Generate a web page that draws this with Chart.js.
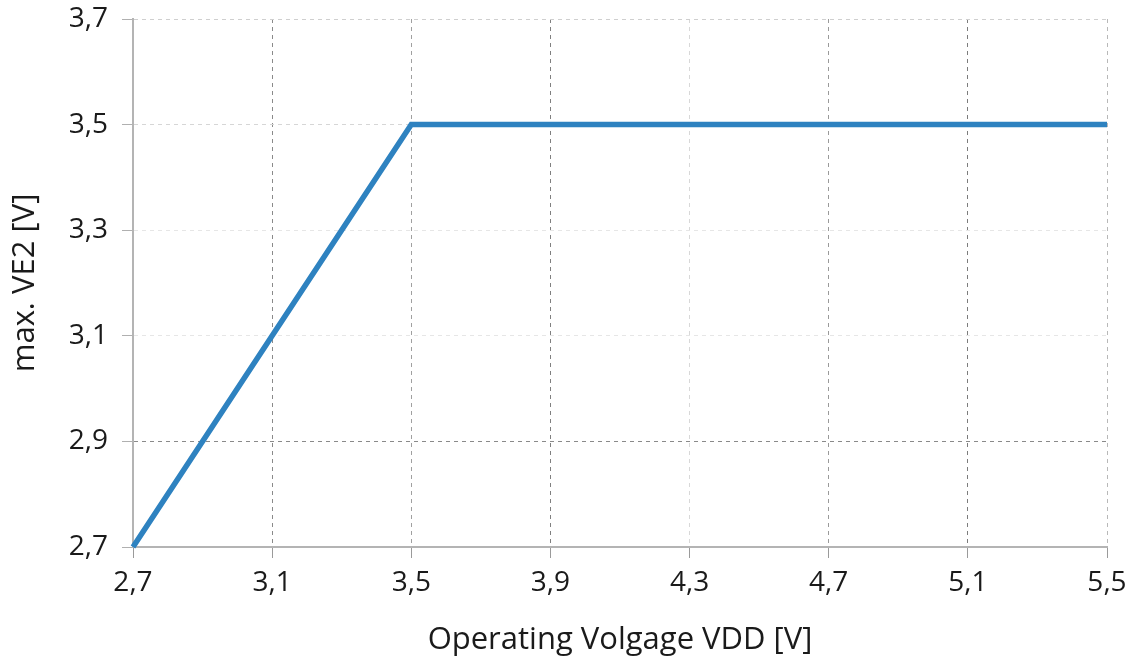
<!DOCTYPE html>
<html>
<head>
<meta charset="utf-8">
<script src="https://cdn.jsdelivr.net/npm/chart.js@4"></script>
<style>
    html, body { margin: 0; padding: 0; background: #fff; }
    #wrap { width: 1136px; height: 659px; }
</style>
</head>
<body>
<div id="wrap"><canvas id="ve2Chart"></canvas></div>
<script>
// data
let vddValues = [2.7, 3.5, 5.5]
let ve2Values = [2.7, 3.5, 3.5]
let xTicks = [2.7, 3.1, 3.5, 3.9, 4.3, 4.7, 5.1, 5.5]
let yTicks = [2.7, 2.9, 3.1, 3.3, 3.5, 3.7]

// grid shades per tick (the dashed lines are not all the same grey)
let xGridShade = ['#a8a8a8', '#8a8a8a', '#a0a0a0', '#808080', '#d8d8d8', '#9a9a9a', '#7c7c7c', '#b8b8b8']
let yGridShade = ['#a8a8a8', '#8a8a8a', '#e6e6e6', '#e6e6e6', '#d6d6d6', '#cfcfcf']

let commaFormat = v => v.toFixed(1).replace('.', ',')
let fontFamily = "'Open Sans', 'Noto Sans', sans-serif"

let points = vddValues.map((x, i) => ({ x: x, y: ve2Values[i] }))

new Chart("ve2Chart", {
    type: 'line',
    data: {
        datasets: [{
            data: points,
            borderColor: '#2e82c0',
            borderWidth: 5.5,
            pointRadius: 0,
            tension: 0,
            fill: false,
            clip: false
        }]
    },
    options: {
        responsive: true,
        maintainAspectRatio: false,
        animation: false,
        layout: { padding: { top: 19, right: 29, left: 0, bottom: 0 } },
        plugins: {
            legend: { display: false },
            tooltip: { enabled: false }
        },
        scales: {
            x: {
                type: 'linear',
                min: 2.7,
                max: 5.5,
                afterBuildTicks: axis => { axis.ticks = xTicks.map(v => ({ value: v })) },
                afterFit: axis => { axis.height = 112; axis.paddingLeft = 0; axis.paddingRight = 0 },
                ticks: {
                    color: '#1a1a1a',
                    font: { family: fontFamily, size: 28 },
                    padding: 8,
                    maxRotation: 0,
                    callback: v => commaFormat(v)
                },
                grid: {
                    color: ctx => xGridShade[ctx.index] || '#ccc',
                    lineWidth: 1,
                    tickLength: 11,
                    tickColor: '#9a9a9a',
                    drawTicks: true
                },
                border: { display: true, color: '#b4b4b4', width: 2, dash: [4, 4] },
                title: {
                    display: true,
                    text: 'Operating Volgage VDD [V]',
                    color: '#1a1a1a',
                    font: { family: fontFamily, size: 31 },
                    padding: { top: 4, bottom: 0 }
                }
            },
            y: {
                type: 'linear',
                min: 2.7,
                max: 3.7,
                afterBuildTicks: axis => { axis.ticks = yTicks.map(v => ({ value: v })) },
                afterFit: axis => { axis.width = 133; axis.paddingTop = 0; axis.paddingBottom = 0 },
                ticks: {
                    color: '#1a1a1a',
                    font: { family: fontFamily, size: 28 },
                    padding: 14,
                    callback: v => commaFormat(v)
                },
                grid: {
                    color: ctx => yGridShade[ctx.index] || '#ccc',
                    lineWidth: 1,
                    tickLength: 11,
                    tickColor: '#b0b0b0',
                    drawTicks: true
                },
                border: { display: true, color: '#b4b4b4', width: 2, dash: [4, 4] },
                title: {
                    display: true,
                    text: 'max. VE2 [V]',
                    color: '#1a1a1a',
                    font: { family: fontFamily, size: 31 },
                    padding: { top: 7, bottom: 4 }
                }
            }
        }
    }
})
</script>
</body>
</html>
